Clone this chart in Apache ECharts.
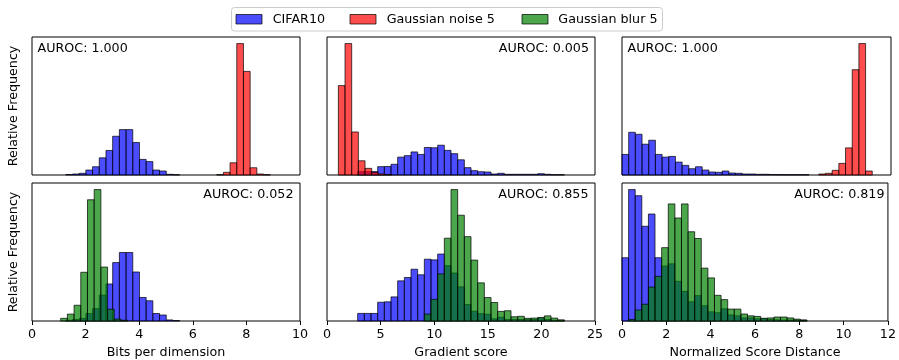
<!DOCTYPE html>
<html>
<head>
<meta charset="utf-8">
<script src="https://cdn.jsdelivr.net/npm/echarts@6/dist/echarts.min.js"></script>
<style>html,body{margin:0;padding:0;background:#fff;}#c{width:899px;height:360px;}</style>
</head>
<body>
<div id="c"></div>
<script>
// ---- Data (relative frequency, arbitrary units; bins given by start + width) ----
const seriesNames = ['CIFAR10', 'Gaussian noise 5', 'Gaussian blur 5'];
const xAxisNames = ['Bits per dimension', 'Gradient score', 'Normalized Score Distance'];
const xMax = [10, 25, 12];
const xInterval = [2, 5, 2];
const aurocTop = ['AUROC: 1.000', 'AUROC: 0.005', 'AUROC: 1.000'];
const aurocBottom = ['AUROC: 0.052', 'AUROC: 0.855', 'AUROC: 0.819'];

// Bits per dimension
const cifarBpdStart = 1.26, cifarBpdWidth = 0.25;
const cifarBpd = [0.5, 1.0, 1.7, 5.0, 8.3, 17.3, 24.7, 39.0, 45.7, 45.7, 32.7, 15.7, 13.5, 5.0, 4.0, 0.7, 0.3];
const noiseBpdStart = 6.89, noiseBpdWidth = 0.25;
const noiseBpd = [0.3, 2.7, 12.3, 132.3, 104.3, 7.3, 1.0, 0.3];
const blurBpdStart = 1.07, blurBpdWidth = 0.25;
const blurBpd = [1.8, 4.6, 10.5, 32.5, 80.9, 87.7, 36.0, 7.9, 1.3, 0.5];

// Gradient score
const cifarGradStart = 2.86, cifarGradWidth = 0.622;
const cifarGrad = [3.4, 3.4, 3.4, 8.4, 8.6, 10.8, 18.0, 19.5, 23.2, 20.7, 27.7, 27.4, 30.0, 24.8, 21.5, 15.3,
                   7.4, 4.4, 3.3, 3.0, 1.0, 1.7, 0.7, 0.7, 0.7, 0.7, 0.7, 1.3, 0.7, 0.3, 0.3];
const noiseGradStart = 1.06, noiseGradWidth = 0.622;
const noiseGrad = [90.0, 132.3, 43.3, 14.3, 6.7, 2.7, 1.0, 0.5];
const blurGradStart = 9.08, blurGradWidth = 0.622;
const blurGrad = [3.1, 9.7, 21.1, 37.1, 58.9, 47.4, 37.8, 27.3, 17.1, 10.5, 8.3, 4.3, 4.6, 1.9, 2.1, 1.2,
                  1.3, 1.6, 2.3, 1.3, 0.5];

// Normalized score distance
const cifarNsdStart = 0.0, cifarNsdWidth = 0.298;
const cifarNsd = [20.7, 43.0, 41.0, 31.0, 35.0, 20.7, 18.0, 18.7, 13.0, 9.7, 6.3, 8.3, 5.0, 3.0, 2.7, 4.0,
                  2.0, 1.7, 1.0, 1.0, 0.7, 0.7, 0.5, 0.4, 0.3, 0.3, 0.3, 0.3];
const noiseNsdStart = 8.78, noiseNsdWidth = 0.298;
const noiseNsd = [1.0, 1.7, 4.7, 11.7, 27.3, 106.0, 132.3, 4.0];
const blurNsdStart = 0.30, blurNsdWidth = 0.298;
const blurNsd = [0.5, 3.6, 5.5, 11.1, 14.6, 24.0, 38.3, 33.7, 38.3, 29.2, 27.0, 17.3, 14.1, 8.4, 7.0, 3.9,
                 3.9, 2.3, 1.7, 1.5, 0.9, 1.0, 1.3, 1.3, 1.0, 0.6, 0.3];

// ---- Build ----
const COLORS = ['rgba(0,0,255,0.7)', 'rgba(255,0,0,0.7)', 'rgba(0,128,0,0.7)'];
const EDGE = 'rgba(0,0,0,0.7)';
const FONT = 'DejaVu Sans';
const FS = 12.7;

function toBins(start, width, vals) {
  return vals.map((v, i) => [start + i * width, start + (i + 1) * width, v]);
}
const hist = [
  { cifar: toBins(cifarBpdStart, cifarBpdWidth, cifarBpd), noise: toBins(noiseBpdStart, noiseBpdWidth, noiseBpd), blur: toBins(blurBpdStart, blurBpdWidth, blurBpd) },
  { cifar: toBins(cifarGradStart, cifarGradWidth, cifarGrad), noise: toBins(noiseGradStart, noiseGradWidth, noiseGrad), blur: toBins(blurGradStart, blurGradWidth, blurGrad) },
  { cifar: toBins(cifarNsdStart, cifarNsdWidth, cifarNsd), noise: toBins(noiseNsdStart, noiseNsdWidth, noiseNsd), blur: toBins(blurNsdStart, blurNsdWidth, blurNsd) }
];

const gridLeft = [32, 327, 622];
const gridWidth = [268, 268, 269];
const rowTop = [37, 183];
const rowHeight = [138, 139];

const grids = [], xAxes = [], yAxes = [], series = [];
function maxOf(arr) { return Math.max.apply(null, arr.map(d => d[2])); }

function makeRender(color) {
  return function (params, api) {
    const x0 = api.value(0), x1 = api.value(1), h = api.value(2);
    const p0 = api.coord([x0, h]);
    const p1 = api.coord([x1, 0]);
    return {
      type: 'rect',
      shape: { x: p0[0], y: p0[1], width: p1[0] - p0[0], height: p1[1] - p0[1] },
      style: { fill: color, stroke: EDGE, lineWidth: 1 }
    };
  };
}

for (let r = 0; r < 2; r++) {
  for (let c = 0; c < 3; c++) {
    const idx = r * 3 + c;
    grids.push({ left: gridLeft[c], top: rowTop[r], width: gridWidth[c], height: rowHeight[r],
      show: true, borderColor: '#000', borderWidth: 1, backgroundColor: 'rgba(0,0,0,0)', containLabel: false });
    const bottom = r === 1;
    xAxes.push({
      type: 'value', gridIndex: idx, min: 0, max: xMax[c], interval: xInterval[c],
      axisLine: { show: false },
      axisTick: { show: bottom, length: 4, lineStyle: { color: '#000', width: 1 } },
      axisLabel: { show: bottom, color: '#000', fontFamily: FONT, fontSize: FS, margin: 7 },
      splitLine: { show: false },
      name: bottom ? xAxisNames[c] : '', nameLocation: 'middle', nameGap: 25,
      nameTextStyle: { color: '#000', fontFamily: FONT, fontSize: FS }
    });
    const other = r === 0 ? hist[c].noise : hist[c].blur;
    const ymax = 1.05 * Math.max(maxOf(hist[c].cifar), maxOf(other));
    yAxes.push({
      type: 'value', gridIndex: idx, min: 0, max: ymax,
      axisLine: { show: false }, axisTick: { show: false }, axisLabel: { show: false }, splitLine: { show: false },
      name: c === 0 ? 'Relative Frequency' : '', nameLocation: 'middle', nameRotate: 90, nameGap: 12,
      nameTextStyle: { color: '#000', fontFamily: FONT, fontSize: FS }
    });
    series.push({
      type: 'custom', name: seriesNames[0], xAxisIndex: idx, yAxisIndex: idx,
      renderItem: makeRender(COLORS[0]), encode: { x: [0, 1], y: 2 }, data: hist[c].cifar,
      itemStyle: { color: COLORS[0] }, silent: true, animation: false
    });
    const k = r === 0 ? 1 : 2;
    series.push({
      type: 'custom', name: seriesNames[k], xAxisIndex: idx, yAxisIndex: idx,
      renderItem: makeRender(COLORS[k]), encode: { x: [0, 1], y: 2 }, data: other,
      itemStyle: { color: COLORS[k] }, silent: true, animation: false
    });
  }
}

// AUROC annotations and legend
const graphics = [];
const textAt = (txt, x, y, align) => ({
  type: 'text', x: x, y: y, z: 10,
  style: { text: txt, fill: '#000', font: FS + 'px "' + FONT + '"', textAlign: align, textVerticalAlign: 'middle' }
});
graphics.push(textAt(aurocTop[0], gridLeft[0] + 5.5, rowTop[0] + 11.7, 'left'));
graphics.push(textAt(aurocTop[1], gridLeft[1] + gridWidth[1] - 6, rowTop[0] + 11.7, 'right'));
graphics.push(textAt(aurocTop[2], gridLeft[2] + 5.5, rowTop[0] + 11.7, 'left'));
for (let c = 0; c < 3; c++) {
  graphics.push(textAt(aurocBottom[c], gridLeft[c] + gridWidth[c] - 6.5, rowTop[1] + 12, 'right'));
}
// legend box
graphics.push({ type: 'rect', z: 10, shape: { x: 231.5, y: 7.5, width: 431, height: 23.5, r: 3 },
  style: { fill: 'rgba(255,255,255,0.8)', stroke: '#cccccc', lineWidth: 1 } });
const legendPatchX = [236, 350, 522];
const legendTextX = [272.7, 386.7, 558.3];
for (let i = 0; i < 3; i++) {
  graphics.push({ type: 'rect', z: 11, shape: { x: legendPatchX[i], y: 14.5, width: 26, height: 9.5 },
    style: { fill: COLORS[i], stroke: EDGE, lineWidth: 1 } });
  graphics.push({ type: 'text', z: 11, x: legendTextX[i], y: 19.5,
    style: { text: seriesNames[i], fill: '#000', font: FS + 'px "' + FONT + '"', textAlign: 'left', textVerticalAlign: 'middle' } });
}

const chart = echarts.init(document.getElementById('c'), null, { renderer: 'canvas' });
chart.setOption({
  backgroundColor: '#fff',
  animation: false,
  textStyle: { fontFamily: FONT },
  grid: grids, xAxis: xAxes, yAxis: yAxes, series: series, graphic: graphics
});
</script>
</body>
</html>
